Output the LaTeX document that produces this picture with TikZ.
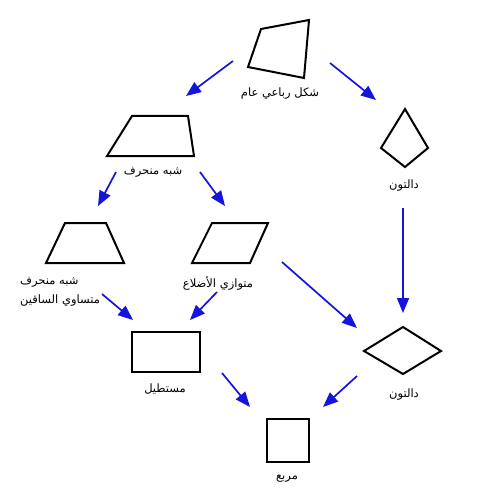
\documentclass[tikz,border=0pt]{standalone}
\usepackage{fontspec}
\newfontfamily\arabicfont[Script=Arabic]{DejaVu Sans}
\TeXXeTstate=1
\usetikzlibrary{arrows.meta}
\definecolor{arrblue}{RGB}{20,20,220}
\begin{document}
\begin{tikzpicture}[x=1pt,y=-1pt,
  figshape/.style={draw=black, line width=2pt, line join=miter},
  conn/.style={draw=arrblue, line width=1.7pt, -{Triangle[length=15pt,width=12pt]}},
  lbl/.style={font=\arabicfont\fontsize{11.5}{19}\selectfont, inner sep=0pt}]
\useasboundingbox (0,0) rectangle (500,500);
% shapes
\draw[figshape] (261,29) -- (309,20) -- (304,78) -- (248,67) -- cycle;
\draw[figshape] (132,116) -- (188,116) -- (194,156) -- (107,156) -- cycle;
\draw[figshape] (65,223) -- (106,223) -- (124,263) -- (46,263) -- cycle;
\draw[figshape] (212,223) -- (268,223) -- (250,263) -- (192,263) -- cycle;
\draw[figshape] (405,109) -- (428,148) -- (405,167) -- (381,148) -- cycle;
\draw[figshape] (403,327) -- (441,351) -- (403,374) -- (364,351) -- cycle;
\draw[figshape] (132,332) rectangle (200,372);
\draw[figshape] (267,419) rectangle (309,462);
% labels
\node[lbl] (lq) at (280,94) {\beginR شكل رباعي عام\endR};
\node[lbl] (lt) at (153,172) {\beginR شبه منحرف\endR};
\node[lbl, align=left, anchor=west] (li) at (20,292) {\beginR شبه منحرف\endR\\\beginR متساوي الساقين\endR};
\node[lbl] (lp) at (218,283) {\beginR متوازي الأضلاع\endR};
\node[lbl] (lk) at (404,186) {\beginR دالتون\endR};
\node[lbl] (lr) at (404,395) {\beginR دالتون\endR};
\node[lbl] (lrect) at (165,389) {\beginR مستطيل\endR};
\node[lbl] (ls) at (287,479) {\beginR مربع\endR};
% arrow endpoints
\coordinate (a1) at (233,61);  \coordinate (b1) at (186,96);
\coordinate (a2) at (330,63);  \coordinate (b2) at (376,100);
\coordinate (a3) at (116,172); \coordinate (b3) at (98,206);
\coordinate (a4) at (200,172); \coordinate (b4) at (225,206);
\coordinate (a5) at (403,208); \coordinate (b5) at (403,313);
\coordinate (a6) at (102,294); \coordinate (b6) at (133,320);
\coordinate (a7) at (217,292); \coordinate (b7) at (190,320);
\coordinate (a8) at (282,262); \coordinate (b8) at (357,328);
\coordinate (a9) at (222,373); \coordinate (b9) at (250,407);
\coordinate (a10) at (357,376); \coordinate (b10) at (323,407);
\foreach \i in {1,...,10} {\draw[conn] (a\i) -- (b\i);}
\end{tikzpicture}
\end{document}
